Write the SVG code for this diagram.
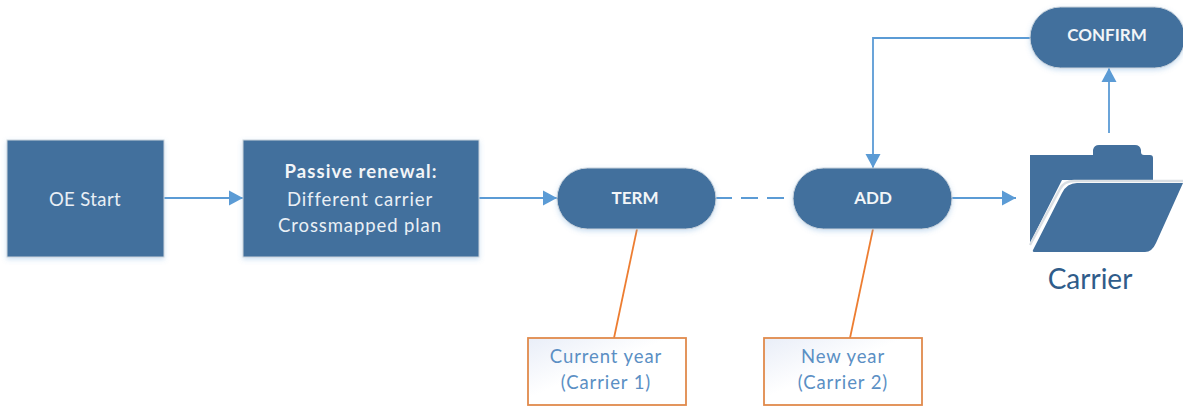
<svg xmlns="http://www.w3.org/2000/svg" width="1183" height="408" viewBox="0 0 1183 408">
<style>
.n{fill:#43709d;stroke:#c9d3dc;stroke-width:1;filter:url(#sh)}
.t{font-family:Lato,"Open Sans",sans-serif;font-size:18.5px;fill:#e9eff5;text-anchor:middle;letter-spacing:.9px}
.b{font-weight:700;fill:#f2f5f8}
.u{font-size:17px;letter-spacing:0}
.c{fill:none;stroke:#5b9bd5;stroke-width:1.8}
.o{fill:none;stroke:#ed7d31;stroke-width:1.8}
.l{fill:url(#g);stroke:#e08a4c;stroke-width:1.8}
.lt{font-family:Lato,"Open Sans",sans-serif;font-size:18.5px;fill:#5b8fc4;text-anchor:middle;letter-spacing:.9px}
.f{fill:#43709d}
</style>
<defs>
<marker id="a" markerUnits="userSpaceOnUse" markerWidth="16" markerHeight="16" refX="14" refY="8" orient="auto"><path d="M0 0.5L14 8L0 15.5Z" fill="#5b9bd5"/></marker>
<linearGradient id="g" x1="0" y1="0" x2="1" y2="1"><stop offset="0" stop-color="#e9eef8"/><stop offset=".45" stop-color="#fff"/></linearGradient>
<filter id="sh" x="-10%" y="-15%" width="120%" height="135%"><feDropShadow dx="0" dy="2" stdDeviation="2.5" flood-color="#5b9bd5" flood-opacity=".3"/></filter>
</defs>
<g id="connectors">
<path class="c" d="M164 198H243" marker-end="url(#a)"/>
<path class="c" d="M479 198H557" marker-end="url(#a)"/>
<path class="c" d="M716 198H732M741 198H758M767 198H784"/>
<path class="c" d="M952 198H1016" marker-end="url(#a)"/>
<path class="c" d="M1109 133V68" marker-end="url(#a)"/>
<path class="c" d="M1030 38H873V168" marker-end="url(#a)"/>
<path class="o" d="M637 229L614 338"/>
<path class="o" d="M873 229L850 338"/>
</g>
<g id="oe-start"><rect class="n" x="7" y="140" width="157" height="117"/><text class="t" x="85" y="206" style="letter-spacing:.4px">OE Start</text></g>
<g id="passive-renewal"><rect class="n" x="243" y="140" width="236" height="117"/>
<text class="t b" x="361" y="178" style="letter-spacing:1.1px">Passive renewal:</text><text class="t" x="360" y="206">Different carrier</text><text class="t" x="360" y="232">Crossmapped plan</text></g>
<g id="term"><rect class="n" x="557" y="168" width="159" height="61" rx="30.5"/><text class="t b u" x="635" y="204">TERM</text></g>
<g id="add"><rect class="n" x="793" y="168" width="159" height="61" rx="30.5"/><text class="t b u" x="873" y="204">ADD</text></g>
<g id="confirm"><rect class="n" x="1030" y="7" width="155" height="61" rx="30.5"/><text class="t b u" x="1107" y="41">CONFIRM</text></g>
<g id="carrier">
<path class="f" d="M1030 243V155H1093V150Q1094 145 1099 145H1135Q1140 145 1141 150V152Q1141 155 1144 155H1150Q1153 155 1153 158V180H1062Z"/>
<path class="f" d="M1033 250L1062 193Q1067 183 1077 183H1183L1156 243Q1152 252 1145 252H1035Q1032 252 1033 250Z"/>
<path d="M1030 245L1060 189Q1064 181 1074 181H1183" fill="none" stroke="#d9dee3" stroke-width="2.4"/>
<text x="1090" y="289" font-family="Lato,Open Sans,sans-serif" font-size="28" fill="#2f5c8a" text-anchor="middle">Carrier</text>
</g>
<g id="current-year"><rect class="l" x="528" y="338" width="158" height="67"/><text class="lt" x="606" y="363">Current year</text><text class="lt" x="606" y="389">(Carrier 1)</text></g>
<g id="new-year"><rect class="l" x="764" y="338" width="158" height="67"/><text class="lt" x="843" y="363">New year</text><text class="lt" x="843" y="389">(Carrier 2)</text></g>
</svg>
